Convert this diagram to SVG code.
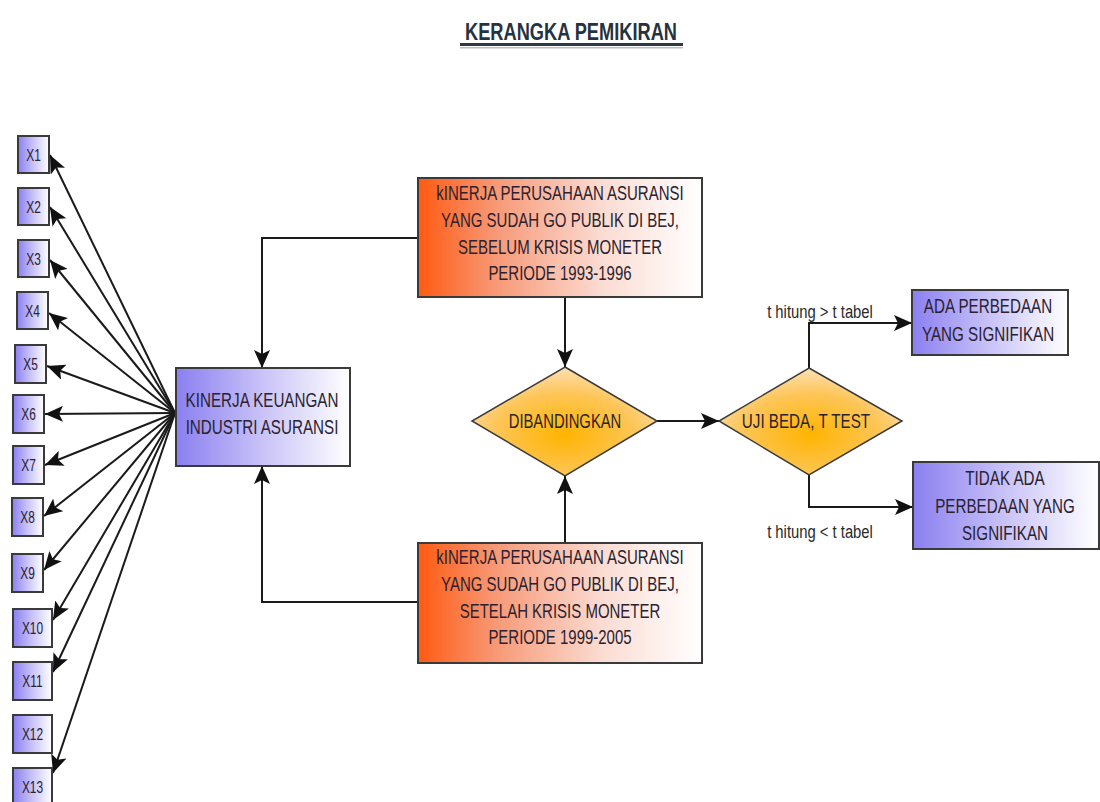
<svg xmlns="http://www.w3.org/2000/svg" width="1100" height="802" viewBox="0 0 1100 802">
<defs>
<linearGradient id="blueGrad" x1="0" y1="0" x2="1" y2="0">
<stop offset="0" stop-color="#8a7ff0"/>
<stop offset="0.5" stop-color="#c9c3f8"/>
<stop offset="1" stop-color="#ffffff"/>
</linearGradient>
<linearGradient id="orangeGrad" x1="0" y1="0" x2="1" y2="0">
<stop offset="0" stop-color="#ff5a12"/>
<stop offset="0.28" stop-color="#f79a78"/>
<stop offset="0.65" stop-color="#fbdcd3"/>
<stop offset="1" stop-color="#ffffff"/>
</linearGradient>
<radialGradient id="diaGrad" cx="0.5" cy="0.62" r="0.62">
<stop offset="0" stop-color="#ffb400"/>
<stop offset="0.6" stop-color="#fdc556"/>
<stop offset="1" stop-color="#fde0b4"/>
</radialGradient>
<marker id="arr" markerUnits="userSpaceOnUse" markerWidth="19" markerHeight="16" refX="18" refY="8" orient="auto">
<path d="M0,0 L18,8 L0,16 L4,8 z" fill="#111"/>
</marker>
<style>
.box{stroke:#3a3a3a;stroke-width:2}
.blue{fill:url(#blueGrad)}
.orange{fill:url(#orangeGrad)}
.dia{fill:url(#diaGrad);stroke:#3a3a3a;stroke-width:1.5}
.t{font-family:"Liberation Sans",Arial,sans-serif;font-size:20px;fill:#2a2230;text-anchor:middle}
.xs{font-family:"Liberation Sans",Arial,sans-serif;font-size:17px;fill:#2a2230;text-anchor:middle}
.lbl{font-family:"Liberation Sans",Arial,sans-serif;font-size:19px;fill:#2a2a2a;text-anchor:middle}
.c{fill:none;stroke:#1a1a1a;stroke-width:2;marker-end:url(#arr)}
</style>
</defs>
<rect width="1100" height="802" fill="#ffffff"/>

<g id="title">
<text transform="translate(571,40) scale(0.76,1)" style="font-family:'Liberation Sans',Arial,sans-serif;font-size:24px;font-weight:bold;fill:#26333f;text-anchor:middle">KERANGKA PEMIKIRAN</text>
<rect x="460" y="43" width="223" height="3" fill="#2d3a46"/>
<rect x="460" y="47" width="223" height="1.5" fill="#b8c0c6"/>
</g>

<g id="connectors">
<line class="c" x1="175" y1="413" x2="50" y2="155"/>
<line class="c" x1="175" y1="413" x2="50" y2="207"/>
<line class="c" x1="175" y1="413" x2="50" y2="260"/>
<line class="c" x1="175" y1="413" x2="49" y2="313"/>
<line class="c" x1="175" y1="413" x2="47" y2="366"/>
<line class="c" x1="175" y1="413" x2="45" y2="414"/>
<line class="c" x1="175" y1="413" x2="45" y2="465"/>
<line class="c" x1="175" y1="413" x2="44" y2="516"/>
<line class="c" x1="175" y1="413" x2="44" y2="570"/>
<line class="c" x1="175" y1="413" x2="53" y2="620"/>
<line class="c" x1="175" y1="413" x2="53" y2="672"/>
<line class="c" x1="175" y1="413" x2="53" y2="773"/>
<polyline class="c" points="418,238 262,238 262,368"/>
<polyline class="c" points="418,602 262,602 262,466"/>
<line class="c" x1="565" y1="297" x2="565" y2="367"/>
<line class="c" x1="565" y1="543" x2="565" y2="476"/>
<line class="c" x1="657" y1="421" x2="719" y2="421"/>
<polyline class="c" points="809,368 809,323 912,323"/>
<polyline class="c" points="809,475 809,507 913,507"/>
</g>

<g id="x1"><rect class="box blue" x="18" y="136" width="31" height="37"/><text class="xs" transform="translate(33.5,161) scale(0.7,1)">X1</text></g>
<g id="x2"><rect class="box blue" x="18" y="188" width="31" height="37"/><text class="xs" transform="translate(33.5,213) scale(0.7,1)">X2</text></g>
<g id="x3"><rect class="box blue" x="18" y="240" width="31" height="37"/><text class="xs" transform="translate(33.5,265) scale(0.7,1)">X3</text></g>
<g id="x4"><rect class="box blue" x="17" y="292" width="31" height="37"/><text class="xs" transform="translate(32.5,317) scale(0.7,1)">X4</text></g>
<g id="x5"><rect class="box blue" x="15" y="345" width="31" height="38"/><text class="xs" transform="translate(30.5,370) scale(0.7,1)">X5</text></g>
<g id="x6"><rect class="box blue" x="13" y="395" width="31" height="38"/><text class="xs" transform="translate(28.5,420) scale(0.7,1)">X6</text></g>
<g id="x7"><rect class="box blue" x="13" y="446" width="31" height="38"/><text class="xs" transform="translate(28.5,471) scale(0.7,1)">X7</text></g>
<g id="x8"><rect class="box blue" x="12" y="498" width="31" height="38"/><text class="xs" transform="translate(27.5,523) scale(0.7,1)">X8</text></g>
<g id="x9"><rect class="box blue" x="12" y="554" width="31" height="38"/><text class="xs" transform="translate(27.5,579) scale(0.7,1)">X9</text></g>
<g id="x10"><rect class="box blue" x="13" y="609" width="39" height="38"/><text class="xs" transform="translate(32.5,634) scale(0.7,1)">X10</text></g>
<g id="x11"><rect class="box blue" x="13" y="662" width="39" height="38"/><text class="xs" transform="translate(32.5,687) scale(0.7,1)">X11</text></g>
<g id="x12"><rect class="box blue" x="13" y="715" width="39" height="38"/><text class="xs" transform="translate(32.5,740) scale(0.7,1)">X12</text></g>
<g id="x13"><rect class="box blue" x="13" y="768" width="39" height="38"/><text class="xs" transform="translate(32.5,793) scale(0.7,1)">X13</text></g>

<g id="kinerja-keuangan">
<rect class="box blue" x="176" y="368" width="174" height="98"/>
<g transform="translate(262,0) scale(0.76,1)">
<text class="t" x="0" y="407">KINERJA KEUANGAN</text>
<text class="t" x="0" y="434">INDUSTRI ASURANSI</text>
</g>
</g>

<g id="sebelum">
<rect class="box orange" x="418" y="178" width="284" height="119"/>
<g transform="translate(560,0) scale(0.75,1)">
<text class="t" x="0" y="200">kINERJA PERUSAHAAN ASURANSI</text>
<text class="t" x="0" y="227">YANG SUDAH GO PUBLIK DI BEJ,</text>
<text class="t" x="0" y="254">SEBELUM KRISIS MONETER</text>
<text class="t" x="0" y="280">PERIODE 1993-1996</text>
</g>
</g>

<g id="setelah">
<rect class="box orange" x="418" y="543" width="284" height="120"/>
<g transform="translate(560,0) scale(0.75,1)">
<text class="t" x="0" y="564">kINERJA PERUSAHAAN ASURANSI</text>
<text class="t" x="0" y="591">YANG SUDAH GO PUBLIK DI BEJ,</text>
<text class="t" x="0" y="618">SETELAH KRISIS MONETER</text>
<text class="t" x="0" y="644">PERIODE 1999-2005</text>
</g>
</g>

<g id="dibandingkan">
<polygon class="dia" points="565,367 657,421 565,476 472,421"/>
<text class="t" transform="translate(565,428) scale(0.74,1)">DIBANDINGKAN</text>
</g>

<g id="uji-beda">
<polygon class="dia" points="809,368 902,421 809,475 719,421"/>
<text class="t" transform="translate(806,428) scale(0.76,1)">UJI BEDA, T TEST</text>
</g>

<g id="ada">
<rect class="box blue" x="912" y="290" width="156" height="65"/>
<g transform="translate(988,0) scale(0.76,1)">
<text class="t" x="0" y="313">ADA PERBEDAAN</text>
<text class="t" x="0" y="341">YANG SIGNIFIKAN</text>
</g>
</g>

<g id="tidak-ada">
<rect class="box blue" x="913" y="462" width="186" height="87"/>
<g transform="translate(1005,0) scale(0.76,1)">
<text class="t" x="0" y="485">TIDAK ADA</text>
<text class="t" x="0" y="513">PERBEDAAN YANG</text>
<text class="t" x="0" y="540">SIGNIFIKAN</text>
</g>
</g>

<g id="labels">
<text class="lbl" transform="translate(820,318) scale(0.78,1)">t hitung &gt; t tabel</text>
<text class="lbl" transform="translate(820,538) scale(0.78,1)">t hitung &lt; t tabel</text>
</g>
</svg>
